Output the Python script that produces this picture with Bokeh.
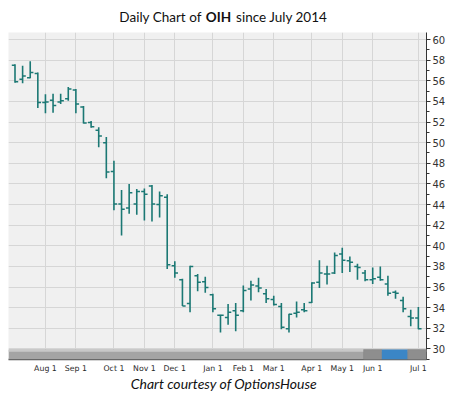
from bokeh.plotting import figure
from bokeh.models import (ColumnDataSource, FixedTicker, BoxAnnotation, Range1d)
from bokeh.layouts import column
from bokeh.core.properties import value
from bokeh.embed import file_html
from bokeh.resources import INLINE

# Weekly OHLC values
opens = [57.5, 56.15, 56.3, 56.7, 53.9, 54.1, 53.95, 54.25, 55.1, 53.45,
         51.95, 51.2, 50.0, 47.2, 44.05, 43.65, 44.05, 45.25, 45.8, 44.0,
         44.7, 38.05, 36.7, 34.4, 37.1, 36.5, 35.25, 33.25, 33.05, 33.7,
         33.7, 35.8, 36.1, 35.35, 34.8, 34.1, 31.95, 33.45, 33.8, 34.5,
         36.45, 37.25, 37.35, 39.2, 38.55, 38.0, 37.35, 36.7, 36.95, 36.3,
         35.5, 34.7, 33.15, 33.0]
highs = [57.6, 57.45, 57.9, 56.8, 54.7, 54.75, 54.75, 55.4, 55.2, 53.55,
         52.1, 51.5, 50.55, 48.25, 45.4, 46.0, 45.5, 45.55, 45.9, 45.25,
         45.0, 38.5, 36.8, 38.05, 37.25, 37.0, 35.35, 33.3, 34.35, 34.45,
         36.15, 36.6, 36.9, 35.8, 35.15, 34.45, 33.4, 34.6, 34.45, 36.45,
         38.6, 38.05, 39.35, 39.8, 38.95, 38.25, 37.65, 37.9, 38.0, 37.1,
         35.65, 35.05, 33.8, 34.05]
lows = [55.8, 55.75, 56.25, 53.35, 52.85, 52.9, 53.75, 54.05, 52.85, 51.85,
        51.45, 49.55, 46.55, 43.45, 41.0, 43.1, 43.0, 42.45, 42.35, 42.75,
        37.75, 36.9, 34.15, 33.55, 35.6, 35.45, 33.55, 31.6, 32.35, 31.7,
        33.55, 34.7, 35.5, 34.45, 34.2, 31.9, 31.6, 33.05, 33.55, 34.45,
        35.9, 36.25, 37.25, 37.35, 37.45, 36.7, 36.55, 36.3, 36.6, 35.15,
        34.85, 33.55, 32.2, 31.9]
closes = [55.9, 56.45, 56.8, 53.9, 53.95, 53.6, 54.05, 55.2, 53.75, 51.9,
          51.55, 50.65, 47.15, 44.05, 43.55, 45.15, 45.25, 45.0, 44.05, 44.85,
          38.15, 37.35, 34.15, 38.0, 36.45, 35.95, 33.9, 33.25, 33.55, 33.25,
          35.65, 36.2, 35.9, 34.85, 34.3, 32.1, 33.35, 33.55, 33.7, 36.4,
          37.35, 37.25, 39.05, 38.6, 38.4, 37.9, 36.7, 36.8, 36.7, 35.4,
          35.4, 33.9, 33.0, 31.95]

month_idx = [4, 8, 13, 17, 21, 26, 30, 34, 39, 43, 47, 53]
month_labels = ["Aug 1", "Sep 1", "Oct 1", "Nov 1", "Dec 1", "Jan 1",
                "Feb 1", "Mar 1", "Apr 1", "May 1", "Jun 1", "Jul 1"]
y_major = list(range(30, 61, 2))
y_minor = list(range(29, 61, 2))

title_parts = ["Daily Chart of", "OIH", "since July 2014"]
caption = "Chart courtesy of OptionsHouse"

BAR = "#1b7874"
TICK = 0.42
W = 450


def blank_fig(h):
    f = figure(width=W, height=h, output_backend="svg", toolbar_location=None,
               x_range=Range1d(0, W), y_range=Range1d(0, h),
               x_axis_type=None, y_axis_type=None,
               min_border=0, min_border_left=0, min_border_right=0,
               min_border_top=0, min_border_bottom=0)
    f.outline_line_color = None
    f.background_fill_color = "white"
    f.border_fill_color = "white"
    f.xgrid.visible = False
    f.ygrid.visible = False
    return f


# ---- header with mixed-weight title ----
head = blank_fig(32)
hsrc = ColumnDataSource(dict(x=[208, 226, 245], y=[16, 16, 16], t=title_parts,
                             a=["right", "center", "left"],
                             s=["normal", "bold", "normal"]))
head.text(x="x", y="y", text="t", source=hsrc, text_align="a",
          text_font_style="s", text_baseline="middle",
          text_font=value("Lato"), text_font_size="13.5px", text_color="#111111")

# ---- main chart ----
n = len(opens)
idx = list(range(n))
src = ColumnDataSource(dict(
    x=idx,
    xo=[i - TICK for i in idx],
    xc=[i + TICK for i in idx],
    o=opens, h=highs, l=lows, c=closes))

p = figure(width=W, height=343, output_backend="svg", toolbar_location=None,
           x_range=Range1d(-0.854, 54.07), y_range=Range1d(28.97, 60.68),
           y_axis_location="right",
           min_border_left=8, min_border_right=24,
           min_border_top=0, min_border_bottom=16)
p.background_fill_color = "#f0f0f0"
p.border_fill_color = "white"
p.outline_line_color = None

p.xgrid.ticker = FixedTicker(ticks=month_idx)
p.ygrid.ticker = FixedTicker(ticks=y_major)
p.xgrid.grid_line_color = "#d6d6d6"
p.ygrid.grid_line_color = "#d6d6d6"

p.yaxis.ticker = FixedTicker(ticks=y_major, minor_ticks=y_minor)
p.yaxis.axis_line_color = "#333333"
p.yaxis.major_tick_line_color = "#333333"
p.yaxis.minor_tick_line_color = "#333333"
p.yaxis.major_tick_in = 0
p.yaxis.major_tick_out = 4
p.yaxis.minor_tick_in = 0
p.yaxis.minor_tick_out = 3
p.yaxis.major_label_standoff = 2
p.yaxis.major_label_text_font = "DejaVu Sans"
p.yaxis.major_label_text_font_size = "10px"
p.yaxis.major_label_text_color = "#333333"

p.xaxis.ticker = FixedTicker(ticks=month_idx)
p.xaxis.major_label_overrides = {i: s for i, s in zip(month_idx, month_labels)}
p.xaxis.major_tick_line_color = None
p.xaxis.minor_tick_line_color = None
p.xaxis.major_tick_out = 0
p.xaxis.major_tick_in = 0
p.xaxis.axis_line_color = "#555555"
p.xaxis.axis_line_width = 1.5
p.xaxis.major_label_standoff = 4
p.xaxis.major_label_text_font = "DejaVu Sans"
p.xaxis.major_label_text_font_size = "7.8px"
p.xaxis.major_label_text_color = "#2a2a2a"

p.segment(x0="x", y0="l", x1="x", y1="h", source=src, line_color=BAR, line_width=1.6)
p.segment(x0="xo", y0="o", x1="x", y1="o", source=src, line_color=BAR, line_width=1.5)
p.segment(x0="x", y0="c", x1="xc", y1="c", source=src, line_color=BAR, line_width=1.5)

# scrollbar decoration at the bottom of the plot area
SB_BOT, SB_TOP = 28.97, 29.93
p.add_layout(BoxAnnotation(bottom=SB_BOT, top=SB_TOP, fill_color="#a4a4a4",
                           fill_alpha=1, line_color=None))
p.add_layout(BoxAnnotation(bottom=29.72, top=SB_TOP, fill_color="#c8c8c8",
                           fill_alpha=1, line_color=None))
p.add_layout(BoxAnnotation(left=45.8, right=48.2, bottom=SB_BOT, top=SB_TOP,
                           fill_color="#8e8e8e", fill_alpha=1, line_color="#777777"))
p.add_layout(BoxAnnotation(left=48.2, right=51.6, bottom=SB_BOT, top=SB_TOP,
                           fill_color="#3b86c6", fill_alpha=1, line_color=None))
p.add_layout(BoxAnnotation(left=51.6, right=54.07, bottom=SB_BOT, top=SB_TOP,
                           fill_color="#8e8e8e", fill_alpha=1, line_color="#777777"))

# ---- footer caption ----
foot = blank_fig(24)
fsrc = ColumnDataSource(dict(x=[232], y=[16], t=[caption]))
foot.text(x="x", y="y", text="t", source=fsrc, text_align="center",
          text_baseline="middle", text_font=value("Lato"),
          text_font_style="italic", text_font_size="14px", text_color="#111111")

layout = column(head, p, foot, spacing=0)
open("out.html", "w").write(file_html(layout, INLINE))
